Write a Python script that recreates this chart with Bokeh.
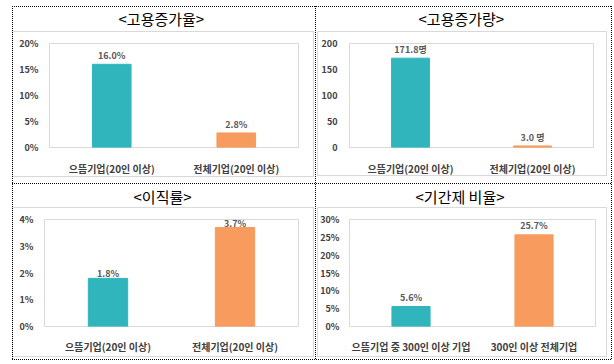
from bokeh.plotting import figure
from bokeh.layouts import column, row
from bokeh.models import Range1d, FixedTicker, ColumnDataSource
from bokeh.core.properties import value
from bokeh.embed import file_html
from bokeh.resources import INLINE

FONT = "Noto Sans CJK KR"

# ---- data ----
titles = ["<고용증가율>", "<고용증가량>", "<이직률>", "<기간제 비율>"]

cats_20 = ["으뜸기업(20인 이상)", "전체기업(20인 이상)"]
cats_300 = ["으뜸기업 중 300인 이상 기업", "300인 이상 전체기업"]

growth_rate = [16.0, 2.8]
growth_rate_labels = ["16.0%", "2.8%"]
growth_rate_ticks = [0, 5, 10, 15, 20]
growth_rate_tick_labels = ["0%", "5%", "10%", "15%", "20%"]

growth_count = [171.8, 3.0]
growth_count_labels = ["171.8명", "3.0 명"]
growth_count_ticks = [0, 50, 100, 150, 200]
growth_count_tick_labels = ["0", "50", "100", "150", "200"]

turnover = [1.8, 3.7]
turnover_labels = ["1.8%", "3.7%"]
turnover_ticks = [0, 1, 2, 3, 4]
turnover_tick_labels = ["0%", "1%", "2%", "3%", "4%"]

temp_ratio = [5.6, 25.7]
temp_ratio_labels = ["5.6%", "25.7%"]
temp_ratio_ticks = [0, 5, 10, 15, 20, 25, 30]
temp_ratio_tick_labels = ["0%", "5%", "10%", "15%", "20%", "25%", "30%"]

bar_colors = ["#31B5BC", "#F79B5E"]


def make_chart(title, cats, vals, labels, ticks, tick_labels, geo):
    p = figure(width=geo["w"], height=geo["h"], x_range=cats,
               y_range=Range1d(ticks[0], ticks[-1]), title=title,
               output_backend="svg", toolbar_location=None,
               min_border_left=geo["ml"], min_border_right=geo["mr"],
               min_border_top=geo["mt"], min_border_bottom=geo["mb"],
               background_fill_color="white", border_fill_color=None,
               outline_line_color="#D9D9D9")
    t = p.title
    t.align = "left"
    t.offset = geo["toff"]
    t.standoff = 0
    t.vertical_align = "bottom"
    t.text_font = FONT
    t.text_font_size = "15px"
    t.text_font_style = "normal"
    t.text_color = "black"
    t.padding = dict(left=0, right=0, top=0, bottom=geo["tpad"])

    p.xgrid.visible = False
    p.ygrid.visible = False

    src = ColumnDataSource(dict(cat=cats, val=vals, lab=labels, color=bar_colors))
    p.vbar(x="cat", top="val", width=0.31, color="color", source=src)
    p.text(x="cat", y="val", text="lab", source=src,
           text_align="center", text_baseline="bottom", y_offset=geo["lo"],
           text_font=value(FONT), text_font_size="9px",
           text_font_style="bold", text_color="#595959")

    xa = p.xaxis[0]
    xa.axis_line_color = None
    xa.major_tick_line_color = None
    xa.minor_tick_line_color = None
    xa.major_label_text_font = FONT
    xa.major_label_text_font_size = "10px"
    xa.major_label_text_font_style = "bold"
    xa.major_label_text_color = "#404040"
    xa.major_label_standoff = geo["xs"]

    ya = p.yaxis[0]
    ya.ticker = FixedTicker(ticks=ticks)
    ya.major_label_overrides = {t_: l for t_, l in zip(ticks, tick_labels)}
    ya.axis_line_color = None
    ya.major_tick_line_color = None
    ya.minor_tick_line_color = None
    ya.major_label_text_font = FONT
    ya.major_label_text_font_size = "9px"
    ya.major_label_text_font_style = "bold"
    ya.major_label_text_color = "#404040"
    ya.major_label_standoff = geo["ys"]
    return p


g1 = dict(w=315, h=183, ml=49, mr=17, mt=43, mb=33, ys=5, xs=7, lo=-2, toff=69, tpad=15)
g2 = dict(w=299, h=183, ml=34, mr=21, mt=43, mb=36, ys=6, xs=7, lo=-2, toff=69, tpad=15)
g3 = dict(w=315, h=181, ml=44, mr=17, mt=36, mb=38, ys=5, xs=6, lo=2, toff=89, tpad=13)
g4 = dict(w=299, h=181, ml=34, mr=19, mt=35, mb=35, ys=4, xs=6, lo=-3, toff=66, tpad=13)

p1 = make_chart(titles[0], cats_20, growth_rate, growth_rate_labels,
                growth_rate_ticks, growth_rate_tick_labels, g1)
p2 = make_chart(titles[1], cats_20, growth_count, growth_count_labels,
                growth_count_ticks, growth_count_tick_labels, g2)
p3 = make_chart(titles[2], cats_20, turnover, turnover_labels,
                turnover_ticks, turnover_tick_labels, g3)
p4 = make_chart(titles[3], cats_300, temp_ratio, temp_ratio_labels,
                temp_ratio_ticks, temp_ratio_tick_labels, g4)

# ---- page decoration: dotted table grid and light-grey chart-area boxes ----
DOT_H = "repeating-linear-gradient(to right, #000 0px, #000 1px, transparent 1px, transparent 2px)"
DOT_V = "repeating-linear-gradient(to bottom, #000 0px, #000 1px, transparent 1px, transparent 2px)"
GRAY = "linear-gradient(#D9D9D9, #D9D9D9)"

decor = [
    (DOT_H, 12, 6, 600, 1), (DOT_H, 12, 359, 600, 1), (DOT_H, 12, 183, 600, 1),
    (DOT_V, 12, 6, 1, 354), (DOT_V, 611, 6, 1, 354), (DOT_V, 315, 6, 1, 354),
]
for (l, t, r, b) in [(12, 31, 313, 176), (317, 31, 606, 175),
                     (12, 207, 313, 356), (317, 207, 606, 356)]:
    decor += [(GRAY, l, t, r - l + 1, 1), (GRAY, l, b, r - l + 1, 1),
              (GRAY, l, t, 1, b - t + 1), (GRAY, r, t, 1, b - t + 1)]

styles = {
    "background-color": "white",
    "background-image": ", ".join(d[0] for d in decor),
    "background-position": ", ".join(f"{d[1]}px {d[2]}px" for d in decor),
    "background-size": ", ".join(f"{d[3]}px {d[4]}px" for d in decor),
    "background-repeat": "no-repeat",
}

layout = column(row(p1, p2), row(p3, p4), styles=styles)

open("out.html", "w").write(file_html(layout, INLINE))
